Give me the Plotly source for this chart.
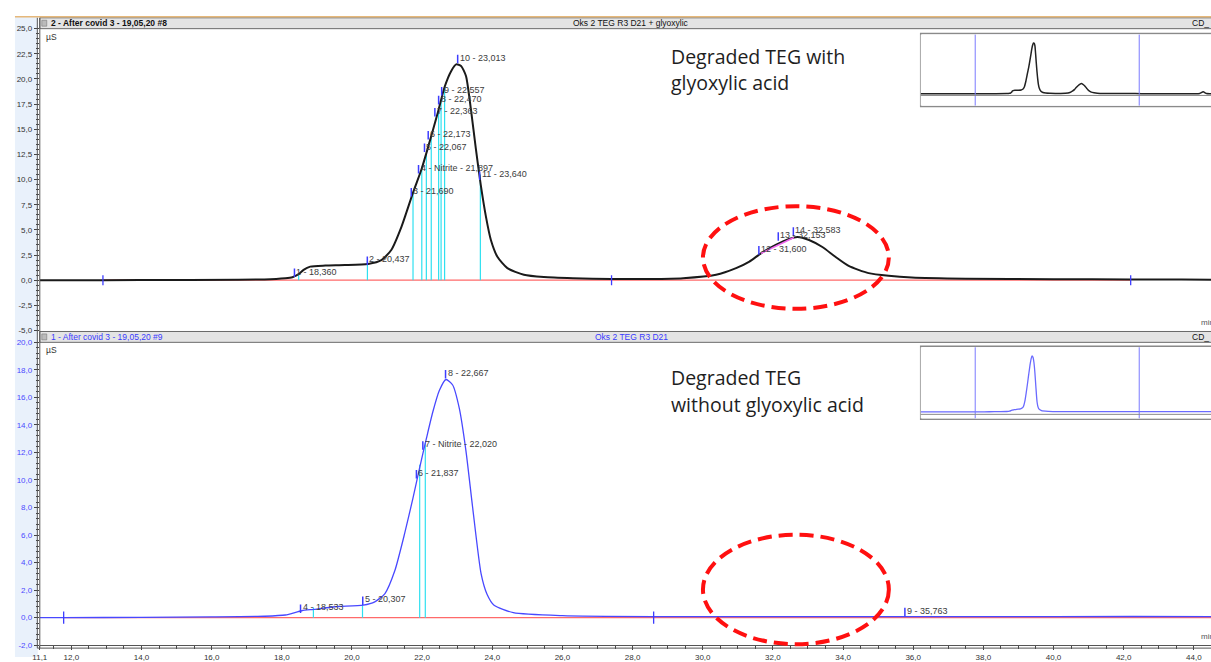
import plotly.graph_objects as go

W, H = 1211, 662

# ------------------------------------------------------------------ data
# Run 2 (with glyoxylic acid) – time [min], conductivity [µS]
top_time = [0.0, 5.0, 11.1, 12.9, 15.0, 17.5, 18.10, 18.30, 18.48, 18.62, 18.81, 19.24, 19.8,
            20.46, 20.84, 21.12, 21.41, 21.74, 21.98, 22.16, 22.45, 22.64, 22.83, 22.97, 23.11,
            23.25, 23.39, 23.53, 23.67, 23.82, 23.96, 24.15, 24.43, 24.90, 25.47, 26.3, 27.4,
            28.5, 29.44, 30.38, 30.95, 31.33, 31.66, 32.08, 32.46, 32.70, 33.03, 33.41, 33.78,
            34.16, 34.73, 35.30, 35.96, 37.5, 40.0, 42.2, 45.0, 50.0, 55.0, 56.8, 57.5, 58.2,
            59.0, 60.0]
top_signal = [0.0, 0.0, 0.0, 0.0, 0.02, 0.08, 0.2, 0.3, 0.6, 1.03, 1.35, 1.45, 1.5,
              1.62, 2.0, 3.0, 5.3, 8.7, 11.0, 13.1, 16.7, 19.2, 20.8, 21.45, 21.3,
              20.3, 17.0, 13.1, 9.5, 6.3, 4.0, 2.3, 1.2, 0.54, 0.31, 0.2, 0.12,
              0.12, 0.2, 0.54, 1.2, 1.85, 2.67, 3.5, 4.1, 4.3, 4.0, 3.3, 2.33,
              1.42, 0.7, 0.44, 0.27, 0.15, 0.1, 0.08, 0.05, 0.03, 0.03, 0.1, 0.8, 0.1,
              0.03, 0.03]

# Run 1 (without glyoxylic acid)
bot_time = [0.0, 5.0, 11.1, 11.78, 14.0, 16.0, 17.5, 18.10, 18.57, 18.90, 19.52, 20.32, 20.65,
            20.94, 21.22, 21.50, 21.74, 21.93, 22.12, 22.30, 22.49, 22.68, 22.87, 23.06, 23.25,
            23.44, 23.68, 23.85, 24.05, 24.6, 26.0, 28.6, 32.0, 35.76, 40.0, 44.5, 50.0, 55.0, 60.0]
bot_signal = [0.0, 0.0, 0.0, 0.0, 0.02, 0.05, 0.1, 0.19, 0.5, 0.6, 0.79, 0.91, 1.15,
              1.75, 3.4, 6.1, 8.7, 10.9, 13.0, 14.9, 16.5, 17.3, 16.9, 15.2, 12.1,
              8.0, 3.2, 1.7, 0.9, 0.36, 0.14, 0.07, 0.07, 0.08, 0.08, 0.08, 0.05, 0.05, 0.05]

# peak labels
top_peak_no = ["1", "2", "3", "4", "5", "6", "7", "8", "9", "10", "11", "12", "13", "14"]
top_peak_name = ["", "", "", "Nitrite", "", "", "", "", "", "", "", "", "", ""]
top_peak_time = [18.360, 20.437, 21.690, 21.897, 22.067, 22.173, 22.363, 22.470, 22.557,
                 23.013, 23.640, 31.600, 32.153, 32.583]
top_label_level = [0.86, 2.06, 8.87, 11.16, 13.28, 14.53, 16.81, 18.02, 18.9, 22.1, 10.51,
                   3.09, 4.46, 4.95]

bot_peak_no = ["4", "5", "6", "7", "8", "9"]
bot_peak_name = ["", "", "", "Nitrite", "", ""]
bot_peak_time = [18.533, 20.307, 21.837, 22.020, 22.667, 35.763]
bot_label_level = [0.74, 1.32, 10.5, 12.6, 17.77, 0.5]

# peak delimiter lines (cyan)
top_delim_time = [18.48, 20.44, 21.74, 21.99, 22.12, 22.26, 22.47, 22.54, 22.64, 23.66]
top_delim_height = [0.7, 1.9, 8.7, 11.3, 12.5, 14.1, 17.0, 17.9, 19.3, 10.5]
bot_delim_time = [18.90, 20.30, 21.93, 22.09]
bot_delim_height = [0.74, 0.91, 11.1, 12.7]

# baselines and integration event marks
top_baseline = [12.9, 42.2]
bot_baseline = [11.78, 44.49]
top_marks = [12.9, 27.4, 42.2]
bot_marks = [11.78, 28.6]
top_drop_time = [31.66, 32.60]
top_drop_signal = [2.67, 4.24]

# axes
x_range = [11.1, 44.49]
x_tickvals = [11.1, 12, 14, 16, 18, 20, 22, 24, 26, 28, 30, 32, 34, 36, 38, 40, 42, 44]
x_ticktext = ["11,1", "12,0", "14,0", "16,0", "18,0", "20,0", "22,0", "24,0", "26,0", "28,0",
              "30,0", "32,0", "34,0", "36,0", "38,0", "40,0", "42,0", "44,0"]
top_y_tickvals = [-5, -2.5, 0, 2.5, 5, 7.5, 10, 12.5, 15, 17.5, 20, 22.5, 25]
top_y_ticktext = ["-5,0", "-2,5", "0,0", "2,5", "5,0", "7,5", "10,0", "12,5", "15,0", "17,5",
                  "20,0", "22,5", "25,0"]
bot_y_tickvals = [-2, 0, 2, 4, 6, 8, 10, 12, 14, 16, 18, 20]
bot_y_ticktext = ["-2,0", "0,0", "2,0", "4,0", "6,0", "8,0", "10,0", "12,0", "14,0", "16,0",
                  "18,0", "20,0"]
overview_range = [0, 59.1]

# ------------------------------------------------------------------ helpers
def px(x):
    return x / W


def py(y):
    return 1 - y / H


def fmt(t):
    return f"{t:.3f}".replace(".", ",")


def label_text(no, name, t):
    return f"{no} - {name} - {fmt(t)}" if name else f"{no} - {fmt(t)}"


def segs(xs, y0s, y1s):
    X, Y = [], []
    for x, a, b in zip(xs, y0s, y1s):
        X += [x, x, None]
        Y += [a, b, None]
    return X, Y


LBL_FONT = dict(family="Liberation Sans, Arial", size=9, color="#3c3c3c")
TICK_BLUE = "#3d3dff"
CYAN = "#2fe0f0"
RED_BL = "#ff6a6a"

fig = go.Figure()

# ---------------- top main
fig.add_trace(go.Scatter(x=top_baseline, y=[0, 0], mode="lines",
                         line=dict(color=RED_BL, width=1.2), xaxis="x", yaxis="y"))
cx, cy = segs(top_delim_time, [0] * len(top_delim_time), top_delim_height)
fig.add_trace(go.Scatter(x=cx, y=cy, mode="lines", line=dict(color=CYAN, width=1.2),
                         xaxis="x", yaxis="y"))
fig.add_trace(go.Scatter(x=top_time, y=top_signal, mode="lines",
                         line=dict(color="#1a1a1a", width=2, shape="spline", smoothing=0.6),
                         xaxis="x", yaxis="y"))
fig.add_trace(go.Scatter(x=top_drop_time, y=top_drop_signal, mode="lines",
                         line=dict(color="#ee66ee", width=1.5), xaxis="x", yaxis="y"))
mx, my = segs(top_marks, [-0.5] * len(top_marks), [0.5] * len(top_marks))
fig.add_trace(go.Scatter(x=mx, y=my, mode="lines", line=dict(color=TICK_BLUE, width=1.3),
                         xaxis="x", yaxis="y"))
tx, ty = segs(top_peak_time, [v - 0.55 for v in top_label_level],
              [v + 0.3 for v in top_label_level])
fig.add_trace(go.Scatter(x=tx, y=ty, mode="lines", line=dict(color=TICK_BLUE, width=1.5),
                         xaxis="x", yaxis="y"))

# ---------------- bottom main
fig.add_trace(go.Scatter(x=bot_baseline, y=[0, 0], mode="lines",
                         line=dict(color=RED_BL, width=1.2), xaxis="x3", yaxis="y3"))
cx, cy = segs(bot_delim_time, [0] * len(bot_delim_time), bot_delim_height)
fig.add_trace(go.Scatter(x=cx, y=cy, mode="lines", line=dict(color=CYAN, width=1.2),
                         xaxis="x3", yaxis="y3"))
fig.add_trace(go.Scatter(x=bot_time, y=bot_signal, mode="lines",
                         line=dict(color="#4848ff", width=1.3, shape="spline", smoothing=0.6),
                         xaxis="x3", yaxis="y3"))
mx, my = segs(bot_marks, [-0.45] * len(bot_marks), [0.45] * len(bot_marks))
fig.add_trace(go.Scatter(x=mx, y=my, mode="lines", line=dict(color=TICK_BLUE, width=1.3),
                         xaxis="x3", yaxis="y3"))
tx, ty = segs(bot_peak_time, [v - 0.4 for v in bot_label_level],
              [v + 0.22 for v in bot_label_level])
fig.add_trace(go.Scatter(x=tx, y=ty, mode="lines", line=dict(color=TICK_BLUE, width=1.5),
                         xaxis="x3", yaxis="y3"))

# ---------------- overview insets
fig.add_trace(go.Scatter(x=top_time, y=top_signal, mode="lines",
                         line=dict(color="#222222", width=1.5, shape="spline", smoothing=0.6),
                         xaxis="x2", yaxis="y2"))
fig.add_trace(go.Scatter(x=bot_time, y=bot_signal, mode="lines",
                         line=dict(color="#6a6aff", width=1.3, shape="spline", smoothing=0.6),
                         xaxis="x4", yaxis="y4"))
fig.update_traces(hoverinfo="skip")

# ------------------------------------------------------------------ layout
xd = [px(33), 1]
hidden = dict(visible=False, showgrid=False, zeroline=False)
fig.update_layout(
    width=W, height=H, margin=dict(l=0, r=0, t=0, b=0),
    paper_bgcolor="white", plot_bgcolor="white", showlegend=False,
    font=dict(family="Liberation Sans, Arial", size=8, color="#333"),
    xaxis=dict(domain=xd, range=x_range, anchor="y", **hidden),
    yaxis=dict(domain=[py(331), py(25)], range=[-5, 25], anchor="x", showgrid=False,
               zeroline=False, tickmode="array", tickvals=top_y_tickvals,
               ticktext=top_y_ticktext, ticks="outside", ticklen=5, tickcolor="#444",
               tickfont=dict(size=8, color="#333"),
               minor=dict(tickmode="linear", tick0=0, dtick=0.5, ticks="outside",
                          ticklen=2.5, tickcolor="#444")),
    xaxis3=dict(domain=xd, range=x_range, anchor="y3", showgrid=False, zeroline=False,
                tickmode="array", tickvals=x_tickvals, ticktext=x_ticktext,
                ticks="outside", ticklen=4, tickcolor="#444", showline=True,
                linecolor="#555", linewidth=1, tickfont=dict(size=8, color="#333"),
                minor=dict(tickmode="linear", tick0=0, dtick=0.5, ticks="outside",
                           ticklen=2.5, tickcolor="#444")),
    yaxis3=dict(domain=[py(650), py(343)], range=[-2, 20], anchor="x3", showgrid=False,
                zeroline=False, tickmode="array", tickvals=bot_y_tickvals,
                ticktext=bot_y_ticktext, ticks="outside", ticklen=5, tickcolor="#444",
                tickfont=dict(size=8, color="#4a4aff"),
                minor=dict(tickmode="linear", tick0=0, dtick=0.4, ticks="outside",
                           ticklen=2.5, tickcolor="#444")),
    xaxis2=dict(domain=[px(919), 1], range=overview_range, anchor="y2", **hidden),
    yaxis2=dict(domain=[py(103), py(31)], range=[-5, 25], anchor="x2", **hidden),
    xaxis4=dict(domain=[px(919), 1], range=overview_range, anchor="y4", **hidden),
    yaxis4=dict(domain=[py(420), py(348)], range=[-2, 20], anchor="x4", **hidden),
)

shapes = []
# left light-blue strip
shapes.append(dict(type="rect", xref="paper", yref="paper", x0=px(8), x1=px(31),
                   y0=0, y1=py(13), fillcolor="#e9f1fb", line_width=0, layer="below"))
# orange top line
shapes.append(dict(type="line", xref="paper", yref="paper", x0=px(8), x1=1, y0=py(13),
                   y1=py(13), line=dict(color="#e6b87a", width=1.5)))
# header bars
for (y0, y1) in [(14, 25), (332, 343)]:
    shapes.append(dict(type="rect", xref="paper", yref="paper", x0=px(33), x1=1.01,
                       y0=py(y1), y1=py(y0), fillcolor="#e4e4e4",
                       line=dict(color="#6a6a6a", width=1), layer="below"))
    shapes.append(dict(type="rect", xref="paper", yref="paper", x0=px(35), x1=px(40),
                       y0=py(y0 + 8.5), y1=py(y0 + 2.5), fillcolor="#bbbbbb",
                       line=dict(color="#777", width=0.6)))
# double y-axis lines
for xx in (30.5, 33):
    shapes.append(dict(type="line", xref="paper", yref="paper", x0=px(xx), x1=px(xx),
                       y0=py(653), y1=py(14), line=dict(color="#555", width=1)))
# second x-axis line
shapes.append(dict(type="line", xref="paper", yref="paper", x0=px(30.5), x1=1,
                   y0=py(653), y1=py(653), line=dict(color="#555", width=1)))

# overview insets
for (yt, yb, yline, ax) in [(30, 104, 92.7, "x2"), (347, 421, 416, "x4")]:
    shapes.append(dict(type="rect", xref="paper", yref="paper", x0=px(919), x1=1.01,
                       y0=py(yb), y1=py(yt), fillcolor="white",
                       line=dict(color="#8a8a8a", width=1.5), layer="below"))
    shapes.append(dict(type="rect", xref=ax, yref="paper", x0=x_range[0], x1=x_range[1],
                       y0=py(yb - 1), y1=py(yt + 1), fillcolor="#f0f0fc", line_width=0,
                       layer="below"))
    for xv in x_range:
        shapes.append(dict(type="line", xref=ax, yref="paper", x0=xv, x1=xv,
                           y0=py(yb - 1), y1=py(yt + 1),
                           line=dict(color="#7b7bff", width=1)))
    shapes.append(dict(type="line", xref="paper", yref="paper", x0=px(919), x1=1,
                       y0=py(yline), y1=py(yline), line=dict(color="#8a8a8a", width=1)))

# red dashed ellipses
for (x0, x1, y0, y1) in [(700, 887, 205, 309), (700, 887, 538, 649)]:
    shapes.append(dict(type="circle", xref="paper", yref="paper", x0=px(x0), x1=px(x1),
                       y0=py(y1), y1=py(y0),
                       line=dict(color="#ff1010", width=4, dash="14px,7px")))
fig.update_layout(shapes=shapes)

ann = []
for no, name, t, lv in zip(top_peak_no, top_peak_name, top_peak_time, top_label_level):
    ann.append(dict(x=t, y=lv, xref="x", yref="y", text=label_text(no, name, t),
                    showarrow=False, xanchor="left", yanchor="middle", xshift=0,
                    font=LBL_FONT))
for no, name, t, lv in zip(bot_peak_no, bot_peak_name, bot_peak_time, bot_label_level):
    ann.append(dict(x=t, y=lv, xref="x3", yref="y3", text=label_text(no, name, t),
                    showarrow=False, xanchor="left", yanchor="middle", xshift=0,
                    font=LBL_FONT))


def ptext(x, y, text, size=8, color="#333", anchor="left", bold=False, family=None):
    return dict(x=px(x), y=py(y), xref="paper", yref="paper",
                text=f"<b>{text}</b>" if bold else text, showarrow=False,
                xanchor=anchor, yanchor="middle",
                font=dict(size=size, color=color,
                          family=family or "Liberation Sans, Arial"))


ann += [
    ptext(42, 19.5, "2 - After covid 3 - 19,05,20 #8", 8.5, "#111", bold=True),
    ptext(628, 19.5, "Oks 2 TEG R3 D21 + glyoxylic", 8.5, "#111", "center"),
    ptext(1190, 19.5, "CD_", 8.5, "#111"),
    ptext(42, 337.5, "1 - After covid 3 - 19,05,20 #9", 8.5, "#3a3aff"),
    ptext(628, 337.5, "Oks 2 TEG R3 D21", 8.5, "#3a3aff", "center"),
    ptext(1190, 337.5, "CD_", 8.5, "#111"),
    ptext(37, 33, "µS", 8.5, "#333"),
    ptext(37, 351, "µS", 8.5, "#333"),
    ptext(1199, 323, "min", 8, "#555"),
    ptext(1199, 641, "min", 8, "#555"),
    ptext(666, 53, "Degraded TEG with", 19.5, "#1e1e1e", family="Open Sans"),
    ptext(666, 80, "glyoxylic acid", 19.5, "#1e1e1e", family="Open Sans"),
    ptext(666, 379, "Degraded TEG", 19.5, "#1e1e1e", family="Open Sans"),
    ptext(666, 406, "without glyoxylic acid", 19.5, "#1e1e1e", family="Open Sans"),
]
fig.update_layout(annotations=ann)

fig.write_html(
    "out.html",
    config={"displayModeBar": False},
    post_script="document.body.style.margin='0';document.body.style.overflow='hidden';",
)
